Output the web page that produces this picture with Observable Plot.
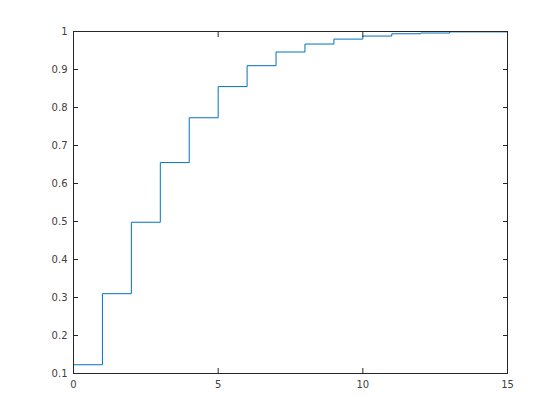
<!DOCTYPE html>
<html>
<head>
<meta charset="utf-8">
<script src="https://cdn.jsdelivr.net/npm/d3@7"></script>
<script src="https://cdn.jsdelivr.net/npm/@observablehq/plot@0.6"></script>
<style>
  html, body { margin: 0; padding: 0; background: #fff; }
  #chart svg { display: block; }
</style>
</head>
<body>
<div id="chart"></div>
<script>
const xs = [0, 1, 2, 3, 4, 5, 6, 7, 8, 9, 10, 11, 12, 13, 14, 15];
const ys = [0.123, 0.310, 0.498, 0.655, 0.773, 0.855, 0.910, 0.946, 0.967, 0.980, 0.988, 0.994, 0.996, 0.999, 0.999, 0.999];
const xTicks = [0, 5, 10, 15];
const yTicks = [0.1, 0.2, 0.3, 0.4, 0.5, 0.6, 0.7, 0.8, 0.9, 1];

const data = xs.map((x, i) => ({x, y: ys[i]}));
const axisColor = "#262626";
const labelColor = "#404040";

const chart = Plot.plot({
  width: 560,
  height: 420,
  marginLeft: 73,
  marginRight: 53,
  marginTop: 31,
  marginBottom: 47,
  style: {fontFamily: "DejaVu Sans, sans-serif", fontSize: "10px", color: labelColor, background: "#fff"},
  x: {domain: [0, 15], ticks: xTicks},
  y: {domain: [0.1, 1], ticks: yTicks},
  marks: [
    Plot.line(data, {x: "x", y: "y", curve: "step-after", stroke: "#0072BD", strokeWidth: 1}),
    Plot.frame({stroke: axisColor, strokeWidth: 1}),
    Plot.axisX(xTicks, {anchor: "bottom", tickSize: -5, tickPadding: 12, stroke: axisColor, fill: labelColor, tickFormat: d => String(d), label: null}),
    Plot.axisX(xTicks, {anchor: "top", tickSize: -5, stroke: axisColor, tickFormat: () => "", label: null}),
    Plot.axisY(yTicks, {anchor: "left", tickSize: -5, tickPadding: 11, stroke: axisColor, fill: labelColor, tickFormat: d => String(d), label: null}),
    Plot.axisY(yTicks, {anchor: "right", tickSize: -5, stroke: axisColor, tickFormat: () => "", label: null})
  ]
});
document.getElementById("chart").appendChild(chart);
</script>
</body>
</html>
